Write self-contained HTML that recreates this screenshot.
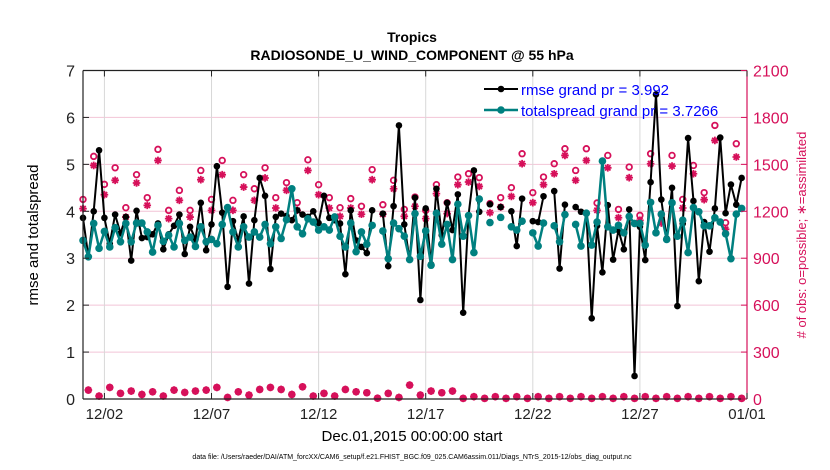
<!DOCTYPE html>
<html><head><meta charset="utf-8"><style>
body{margin:0;background:#fff;}
svg{display:block;font-family:"Liberation Sans",Arial,sans-serif;}
</style></head><body>
<svg id="chart" width="830" height="470" viewBox="0 0 830 470" xmlns="http://www.w3.org/2000/svg">
<rect width="830" height="470" fill="#fff"/>
<text x="412" y="42" text-anchor="middle" font-size="14" font-weight="bold">Tropics</text>
<text x="412" y="60" text-anchor="middle" font-size="14" font-weight="bold">RADIOSONDE_U_WIND_COMPONENT @ 55 hPa</text>
<g id="grid"></g>
<g id="obs"></g>
<g id="series"></g>
<g id="axes"></g>
<text transform="translate(38,235) rotate(-90)" text-anchor="middle" font-size="15">rmse and totalspread</text>
<text transform="translate(806,235) rotate(-90)" text-anchor="middle" font-size="13" fill="#d6105a"># of obs: o=possible; ∗=assimilated</text>
<text x="412" y="441" text-anchor="middle" font-size="15">Dec.01,2015 00:00:00 start</text>
<text x="412" y="459" text-anchor="middle" font-size="7">data file: /Users/raeder/DAI/ATM_forcXX/CAM6_setup/f.e21.FHIST_BGC.f09_025.CAM6assim.011/Diags_NTrS_2015-12/obs_diag_output.nc</text>
<g id="legend">
<line x1="484" y1="89" x2="518" y2="89" stroke="#000" stroke-width="2"/><circle cx="501" cy="89" r="3.3" fill="#000"/>
<text x="521" y="95" font-size="15" font-family="Liberation Sans, sans-serif" fill="#0000ff">rmse grand pr = 3.992</text>
<line x1="484" y1="110" x2="518" y2="110" stroke="#008080" stroke-width="2.5"/><circle cx="501" cy="110" r="3.8" fill="#008080"/>
<text x="521" y="116" font-size="15" font-family="Liberation Sans, sans-serif" fill="#0000ff">totalspread grand pr = 3.7266</text>
</g>
</svg>
<script>
const rmse=[3.86,3.03,4.00,5.30,3.86,3.31,3.93,3.53,3.88,2.95,4.01,3.43,3.45,3.51,3.74,3.19,3.51,3.69,3.93,3.09,3.67,3.40,4.18,3.17,3.72,4.96,3.97,2.39,3.79,3.38,3.89,2.46,3.81,4.71,4.33,2.77,3.88,3.95,3.90,3.81,4.02,3.93,3.88,4.00,3.75,4.33,3.86,3.81,3.74,2.66,4.02,3.38,3.24,3.11,4.02,null,3.95,2.83,4.11,5.83,3.72,2.97,4.29,2.11,4.06,2.87,4.48,3.49,4.18,3.60,4.36,1.84,3.91,4.87,3.99,null,4.15,null,4.09,null,4.00,3.26,4.27,null,3.79,3.77,4.32,null,4.43,2.78,4.14,null,4.09,3.99,3.95,1.72,3.69,2.70,4.13,2.97,3.60,3.19,4.04,0.49,3.67,2.96,4.62,6.49,4.25,3.42,4.50,1.98,3.74,5.56,4.22,2.51,3.77,3.14,4.06,5.57,3.96,4.57,4.14,4.71];
const spread=[3.38,3.03,3.74,3.21,3.57,3.24,3.65,3.35,3.74,3.35,3.75,3.75,3.56,3.13,3.70,3.36,3.49,3.24,3.74,3.38,3.45,3.25,3.67,3.35,3.40,3.31,3.72,4.08,3.56,3.24,3.67,3.45,3.56,3.45,3.72,3.31,3.67,3.42,3.82,4.48,3.67,3.52,3.84,3.77,3.60,3.67,3.60,3.88,3.47,3.24,3.75,3.14,3.56,3.30,3.70,null,3.58,2.99,3.75,3.63,3.47,2.97,3.95,3.04,3.58,2.85,3.96,3.30,3.72,2.97,4.15,3.47,3.91,3.12,4.26,null,3.76,null,3.87,null,3.67,3.60,3.79,null,3.54,3.26,3.75,null,3.69,3.35,3.93,null,3.72,3.26,3.96,3.28,3.77,5.07,3.67,3.60,3.70,3.54,3.89,3.74,3.74,3.28,4.19,3.54,3.94,3.40,4.18,3.47,3.81,3.12,4.08,3.99,3.69,3.69,3.86,3.77,3.52,2.99,3.94,4.06];
const obsPossible=[1276,57,1551,19,1372,74,1478,36,1223,51,1434,29,1287,46,1596,19,1206,57,1334,42,1206,51,1461,57,1276,74,1525,10,1270,46,1434,25,1344,61,1478,74,1287,61,1383,29,1255,78,1529,19,1370,36,1287,19,1223,61,1281,46,1232,40,1466,5,1242,36,1398,10,1212,89,1291,25,1206,51,1370,40,1255,51,1419,4,1440,15,1415,4,1249,15,1287,4,1351,15,1568,4,1319,15,1419,4,1504,15,1600,4,1461,15,1600,4,1253,15,1557,4,1212,15,1483,4,1174,15,1568,4,1178,15,1557,4,1276,15,1493,4,1319,15,1749,4,1127,15,1632,4];
const obsUsed=[1217,57,1493,19,1306,74,1398,36,1163,51,1381,29,1238,46,1525,19,1153,57,1270,42,1163,51,1402,57,1206,74,1434,10,1206,46,1355,25,1270,61,1413,74,1221,61,1334,29,1206,78,1461,19,1306,36,1221,19,1168,61,1221,46,1181,40,1402,5,1181,36,1344,10,1168,89,1232,25,1153,51,1313,40,1185,51,1370,4,1387,15,1359,4,1191,15,1227,4,1295,15,1504,4,1255,15,1370,4,1440,15,1557,4,1398,15,1525,4,1206,15,1478,4,1159,15,1415,4,1142,15,1504,4,1125,15,1489,4,1221,15,1440,4,1274,15,1653,4,1085,15,1547,4];
const yTicksLeft=[0,1,2,3,4,5,6,7];
const yTicksRight=[0,300,600,900,1200,1500,1800,2100];
const xTickDays=[1,6,11,16,21,26,31];
const xTickLabels=["12/02","12/07","12/12","12/17","12/22","12/27","01/01"];
const stepDays=0.25;

const NS="http://www.w3.org/2000/svg";
const L=83,R=747,T=70.5,B=399;
const xDay=d=>L+(R-L)*d/31;
const yL=v=>B-(B-T)*v/7;
const yR=v=>B-(B-T)*v/2100;
const MAG="#d6105a";
function mk(tag,attrs,parent){const e=document.createElementNS(NS,tag);for(const k in attrs)e.setAttribute(k,attrs[k]);parent.appendChild(e);return e;}
const grid=document.getElementById('grid'),axes=document.getElementById('axes'),obs=document.getElementById('obs'),ser=document.getElementById('series');

yTicksRight.forEach(v=>{if(v>0&&v<2100){const l=mk('line',{x1:L,x2:R,y1:yR(v),y2:yR(v),stroke:'#f2c4d6','stroke-width':1},grid);

}});
xTickDays.forEach(d=>{const l=mk('line',{x1:xDay(d),x2:xDay(d),y1:T,y2:B,stroke:'#d8d8d8','stroke-width':1},grid);

});

mk('line',{x1:L,x2:L,y1:T,y2:B,stroke:'#222','stroke-width':1.2},axes);
mk('line',{x1:L,x2:R,y1:B,y2:B,stroke:'#222','stroke-width':1.2},axes);
mk('line',{x1:L,x2:R,y1:T,y2:T,stroke:'#222','stroke-width':1.2},axes);
mk('line',{x1:R,x2:R,y1:T,y2:B,stroke:MAG,'stroke-width':1.2},axes);
yTicksLeft.forEach(v=>{mk('line',{x1:L,x2:L+6,y1:yL(v),y2:yL(v),stroke:'#222'},axes);
const t=mk('text',{x:L-8,y:yL(v)+6,'text-anchor':'end','font-size':16,fill:'#222'},axes);t.textContent=v;

});
yTicksRight.forEach(v=>{mk('line',{x1:R-6,x2:R,y1:yR(v),y2:yR(v),stroke:MAG},axes);
const t=mk('text',{x:R+6,y:yR(v)+6,'font-size':16,fill:MAG},axes);t.textContent=v;

});
xTickDays.forEach((d,i)=>{mk('line',{x1:xDay(d),x2:xDay(d),y1:B,y2:B-6,stroke:'#222'},axes);mk('line',{x1:xDay(d),x2:xDay(d),y1:T,y2:T+6,stroke:'#222'},axes);
const t=mk('text',{x:xDay(d),y:B+20,'text-anchor':'middle','font-size':15,fill:'#222'},axes);t.textContent=xTickLabels[i];

});

obsPossible.forEach((v,i)=>{const x=xDay(i*stepDays),y=yR(v);
const c=mk('circle',{cx:x,cy:y,r:2.8,fill:'none',stroke:MAG,'stroke-width':1.8},obs);

});
obsUsed.forEach((v,i)=>{const x=xDay(i*stepDays),y=yR(v),s=3.8;
const p=mk('path',{d:`M${x-s} ${y}H${x+s}M${x} ${y-s}V${y+s}M${x-2.7} ${y-2.7}L${x+2.7} ${y+2.7}M${x-2.7} ${y+2.7}L${x+2.7} ${y-2.7}`,stroke:MAG,'stroke-width':1.8},obs);

});

function drawSeries(arr,color,w,r,name){
 let d='',pen=false;
 arr.forEach((v,i)=>{if(v==null){pen=false;return;}const x=xDay(i*stepDays),y=yL(v);d+=(pen?'L':'M')+x.toFixed(1)+' '+y.toFixed(1);pen=true;});
 const p=mk('path',{d:d,fill:'none',stroke:color,'stroke-width':w,'stroke-linejoin':'round'},ser);
 
 
 arr.forEach((v,i)=>{if(v==null)return;const c=mk('circle',{cx:xDay(i*stepDays),cy:yL(v),r:r,fill:color},ser);
 
 });
}
drawSeries(rmse,'#000',2,3.3,'rmse');
drawSeries(spread,'#008080',2.5,3.8,'totalspread');
</script>
</body></html>
